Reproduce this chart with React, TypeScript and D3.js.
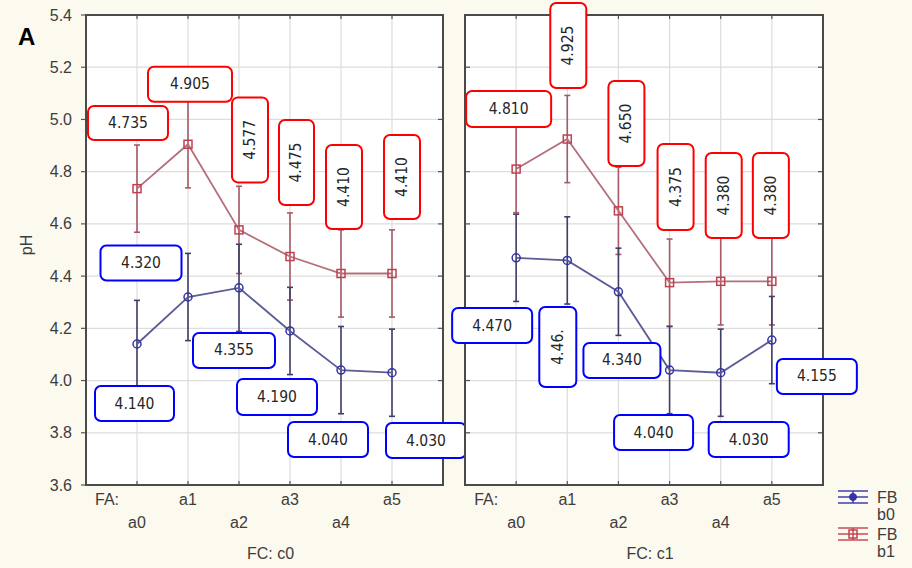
import React from 'react'
import * as d3 from 'd3'

// categories / factors
const faLevels = ['a0', 'a1', 'a2', 'a3', 'a4', 'a5']
const yTicks = [3.6, 3.8, 4.0, 4.2, 4.4, 4.6, 4.8, 5.0, 5.2, 5.4]

// means, panel FC: c0
const c0b0 = [4.14, 4.32, 4.355, 4.19, 4.04, 4.03]
const c0b1 = [4.735, 4.905, 4.577, 4.475, 4.41, 4.41]
// means, panel FC: c1
const c1b0 = [4.47, 4.46, 4.34, 4.04, 4.03, 4.155]
const c1b1 = [4.81, 4.925, 4.65, 4.375, 4.38, 4.38]
// half width of the error bars
const errHalf = 0.167

// annotation text shown in boxes
const c0b0Text = ['4.140', '4.320', '4.355', '4.190', '4.040', '4.030']
const c0b1Text = ['4.735', '4.905', '4.577', '4.475', '4.410', '4.410']
const c1b0Text = ['4.470', '4.46.', '4.340', '4.040', '4.030', '4.155']
const c1b1Text = ['4.810', '4.925', '4.650', '4.375', '4.380', '4.380']

// box placement relative to the point: [dx, dy, w, h, vertical]
type Box = [number, number, number, number, boolean]
const c0b0Box: Box[] = [[-2.5, 59.5, 79, 35, false], [-47, -34, 81, 35, false], [-5, 62.6, 82, 35, false], [-13, 66, 80, 36, false], [-13, 69.4, 80, 35, false], [34, 67.8, 80, 35, false]]
const c0b1Box: Box[] = [[-9, -65.6, 80, 34, false], [2, -60, 84, 35, false], [11, -90, 36, 85, true], [6.5, -94, 35, 85, true], [3, -86.5, 36, 84, true], [10, -96.5, 36, 84, true]]
const c1b0Box: Box[] = [[-24, 67.7, 80, 35, false], [-9.5, 86.6, 37, 80, true], [3.5, 68.7, 77, 35, false], [-16, 62.4, 79, 35, false], [28, 66.8, 80, 35, false], [45, 36.4, 80, 35, false]]
const c1b1Box: Box[] = [[-7.5, -60, 85, 36, false], [1, -93.5, 36, 85, true], [8, -87.3, 36, 85, true], [6, -95.6, 36, 86, true], [3, -85.8, 36, 85, true], [-1, -85.8, 36, 85, true]]

const W = 912
const H = 568
const top = 15
const bottom = 485
const BLUE_LINE = '#5c5c96'
const BLUE_MARK = '#3434a8'
const BLUE_ERR = '#3e3e66'
const RED_LINE = '#b4707a'
const RED_MARK = '#c0404e'
const RED_ERR = '#a65a68'
const labelFont = "'DejaVu Sans', sans-serif"
const axisFont = "'Liberation Sans', Arial, sans-serif"
const axisText = { fontFamily: axisFont, fontSize: 16, fill: '#3c3c3c' }

const y = d3.scaleLinear().domain([3.6, 5.4]).range([bottom, top])

function Panel({ x0, x1, b0, b1, t0, t1, box0, box1, fc, outerTicks }) {
  const x = d3.scalePoint<string>().domain(faLevels).range([x0, x1]).padding(1)
  const line = d3.line<number>().x((_, i) => x(faLevels[i])!).y(v => y(v))
  const series = (vals, lineCol, errCol, markCol, kind) => (
    <g>
      {vals.map((v, i) => {
        const cx = x(faLevels[i])!
        return (
          <g key={'e' + i} stroke={errCol} strokeWidth={1.6}>
            <line x1={cx} x2={cx} y1={y(v + errHalf)} y2={y(v - errHalf)} />
            <line x1={cx - 3} x2={cx + 3} y1={y(v + errHalf)} y2={y(v + errHalf)} />
            <line x1={cx - 3} x2={cx + 3} y1={y(v - errHalf)} y2={y(v - errHalf)} />
          </g>
        )
      })}
      <path d={line(vals)!} fill="none" stroke={lineCol} strokeWidth={1.8} />
      {vals.map((v, i) => {
        const cx = x(faLevels[i])!
        return kind === 'circle'
          ? <circle key={'m' + i} cx={cx} cy={y(v)} r={4} fill="none" stroke={markCol} strokeWidth={1.5} />
          : <rect key={'m' + i} x={cx - 4} y={y(v) - 4} width={8} height={8} fill="none" stroke={markCol} strokeWidth={1.5} />
      })}
    </g>
  )
  const boxes = (vals, texts, boxSpec, col) => vals.map((v, i) => {
    const [dx, dy, w, h, vert] = boxSpec[i]
    const cx = x(faLevels[i])! + dx
    const cy = y(v) + dy
    return (
      <g key={'b' + i}>
        <rect x={cx - w / 2} y={cy - h / 2} width={w} height={h} rx={6} fill="#fff" stroke={col} strokeWidth={2} />
        <text
          x={cx} y={cy} textAnchor="middle" dominantBaseline="central"
          transform={vert ? `rotate(-90 ${cx} ${cy})` : undefined}
          style={{ fontFamily: labelFont, fontStretch: 'condensed', fontSize: 15.5, fill: '#262626' }}
        >{texts[i]}</text>
      </g>
    )
  })
  return (
    <g>
      <rect x={x0} y={top} width={x1 - x0} height={bottom - top} fill="#fff" />
      {yTicks.map(t => <line key={t} x1={x0} x2={x1} y1={y(t)} y2={y(t)} stroke="#ddd" strokeWidth={1.2} />)}
      {faLevels.map(f => <line key={f} x1={x(f)} x2={x(f)} y1={top} y2={bottom} stroke="#ddd" strokeWidth={1.2} />)}
      {yTicks.map(t => (
        <g key={'t' + t} stroke="#555" strokeWidth={1.2}>
          <line x1={outerTicks ? x0 - 5 : x0} x2={outerTicks ? x0 : x0 + 5} y1={y(t)} y2={y(t)} />
          <line x1={x1 - 5} x2={x1} y1={y(t)} y2={y(t)} />
        </g>
      ))}
      {faLevels.map(f => (
        <g key={'tx' + f} stroke="#555" strokeWidth={1.2}>
          <line x1={x(f)} x2={x(f)} y1={top} y2={top + 4} />
          <line x1={x(f)} x2={x(f)} y1={bottom - 4} y2={bottom} />
        </g>
      ))}
      {series(b1, RED_LINE, RED_ERR, RED_MARK, 'square')}
      {series(b0, BLUE_LINE, BLUE_ERR, BLUE_MARK, 'circle')}
      <rect x={x0} y={top} width={x1 - x0} height={bottom - top} fill="none" stroke="#4a4a4a" strokeWidth={2} />
      {boxes(b1, t1, box1, '#ff0000')}
      {boxes(b0, t0, box0, '#0000ff')}
      <g style={axisText}>
        <text x={x(faLevels[0])! - 42} y={505}>FA:</text>
        {faLevels.map((f, i) => (
          <text key={'l' + f} x={x(f)} y={i % 2 === 0 ? 528 : 505} textAnchor="middle">{f}</text>
        ))}
        <text x={(x0 + x1) / 2 + 6} y={559} textAnchor="middle">{fc}</text>
      </g>
    </g>
  )
}

export default function App() {
  return (
    <svg width={W} height={H} style={{ position: 'absolute', left: 0, top: 0, display: 'block' }}>
      <rect x={0} y={0} width={W} height={H} fill="#fcf9ef" />
      <Panel x0={86} x1={443} b0={c0b0} b1={c0b1} t0={c0b0Text} t1={c0b1Text} box0={c0b0Box} box1={c0b1Box} fc="FC: c0" outerTicks={true} />
      <Panel x0={465} x1={823} b0={c1b0} b1={c1b1} t0={c1b0Text} t1={c1b1Text} box0={c1b0Box} box1={c1b1Box} fc="FC: c1" outerTicks={false} />
      <g style={axisText}>
        {yTicks.map(t => (
          <text key={t} x={72} y={y(t)} textAnchor="end" dominantBaseline="central">{t.toFixed(1)}</text>
        ))}
      </g>
      <text x={32} y={245} transform="rotate(-90 32 245)" textAnchor="middle" style={axisText}>pH</text>
      <text x={18} y={45} style={{ fontFamily: axisFont, fontSize: 24, fontWeight: 'bold', fill: '#000' }}>A</text>
      {[{ yc: 497, col: BLUE_MARK, kind: 'circle', t: 'b0' }, { yc: 534, col: RED_MARK, kind: 'square', t: 'b1' }].map(l => (
        <g key={l.t}>
          <g stroke={l.col} strokeWidth={1.4}>
            <line x1={838} x2={868} y1={l.yc - 6} y2={l.yc - 6} />
            <line x1={838} x2={868} y1={l.yc} y2={l.yc} />
            <line x1={838} x2={868} y1={l.yc + 6} y2={l.yc + 6} />
            <line x1={853} x2={853} y1={l.yc - 6} y2={l.yc + 6} />
          </g>
          {l.kind === 'circle'
            ? <circle cx={853} cy={l.yc} r={3.5} fill={l.col} stroke={l.col} />
            : <rect x={849} y={l.yc - 4} width={8} height={8} fill="none" stroke={l.col} strokeWidth={1.5} />}
          <text x={877} y={l.yc + 6} style={axisText}>FB</text>
          <text x={877} y={l.yc + 23} style={axisText}>{l.t}</text>
        </g>
      ))}
    </svg>
  )
}
